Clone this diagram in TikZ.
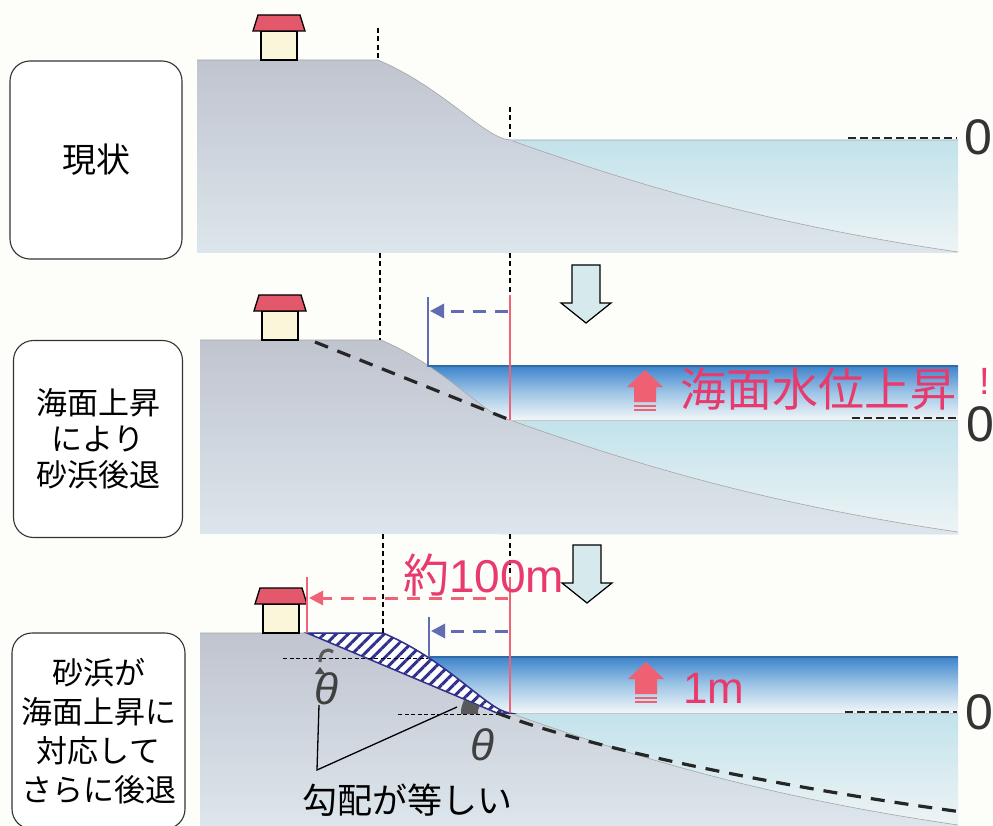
\documentclass[tikz,border=0pt]{standalone}
\usepackage{fontspec}
\setmainfont{Noto Sans CJK JP}
\newfontfamily\latinfont{Liberation Sans}
\usetikzlibrary{arrows.meta,patterns.meta}

\definecolor{paper}{RGB}{253,253,249}
\definecolor{landtop}{RGB}{192,196,207}
\definecolor{landbot}{RGB}{221,230,236}
\definecolor{seatop}{RGB}{194,226,235}
\definecolor{seabot}{RGB}{238,244,245}
\definecolor{raisetop}{RGB}{62,132,205}
\definecolor{raisemid}{RGB}{160,198,230}
\definecolor{raisebot}{RGB}{242,247,248}
\definecolor{roofred}{RGB}{228,88,108}
\definecolor{wallcream}{RGB}{250,246,218}
\definecolor{pinktext}{RGB}{232,58,108}
\definecolor{redline}{RGB}{240,98,118}
\definecolor{pinkarrow}{RGB}{238,96,114}
\definecolor{slateblue}{RGB}{98,108,178}
\definecolor{hatchblue}{RGB}{48,50,140}
\definecolor{arrowfill}{RGB}{214,234,238}

\tikzset{
  land/.style={top color=landtop, bottom color=landbot},
  seaold/.style={top color=seatop, bottom color=seabot},
  searaised/.style={top color=raisetop, bottom color=raisebot, middle color=raisemid},
  shore/.style={draw=black!35, line width=0.6pt},
  surface/.style={draw=black!22, line width=0.6pt},
  raisedsurface/.style={draw=raisetop!80!black, line width=1.4pt},
  guide/.style={draw=black, line width=1.3pt, dash pattern=on 5pt off 3.5pt},
  levelguide/.style={draw=black, line width=0.9pt, dash pattern=on 4pt off 2.5pt},
  profile/.style={draw=black!85, line width=3.2pt, dash pattern=on 14pt off 10pt},
  zeroline/.style={draw=black!85, line width=2.2pt, dash pattern=on 8pt off 4pt},
  shoreblue/.style={draw=slateblue, line width=2.2pt},
  shorered/.style={draw=redline, line width=2.2pt},
  retreatblue/.style={draw=slateblue, line width=3pt, dash pattern=on 13pt off 9pt,
    -{Triangle[length=14pt,width=14pt]}},
  retreatpink/.style={draw=redline, line width=3pt, dash pattern=on 13pt off 9pt,
    -{Triangle[length=14pt,width=14pt]}},
  erosion/.style={draw=hatchblue, line width=1.5pt, preaction={fill=white},
    pattern={Lines[angle=45,distance=8.5pt,line width=3pt]}, pattern color=hatchblue},
  pointer/.style={draw=black, line width=1.3pt},
  anglemark/.style={draw=black!65, line width=3.2pt},
  labelbox/.style={draw=black!80, line width=1.1pt, rounded corners=20pt, fill=white,
    align=center, inner sep=0pt},
  pinklabel/.style={text=pinktext, inner sep=0pt},
  zerolabel/.style={font=\latinfont\fontsize{50}{52}\selectfont, text=black!80, inner sep=0pt},
  thetalabel/.style={font=\latinfont\itshape\fontsize{44}{46}\selectfont, text=black!75, inner sep=0pt},
  house/.pic={
    \draw[fill=wallcream, line width=1.3pt] (-18,-29) rectangle (18,0);
    \draw[fill=roofred, line width=1.3pt] (-26,-29) -- (26,-29) -- (21,-45) -- (-21,-45) -- cycle;
  },
  sinkarrow/.pic={
    \draw[fill=arrowfill, line width=1.2pt, line join=miter]
      (-14,0) -- (14,0) -- (14,38) -- (25,38) -- (0,58) -- (-25,38) -- (-14,38) -- cycle;
  },
  risearrow/.pic={
    \fill[pinkarrow] (-18,17) -- (0,0) -- (18,17) -- (11,17) -- (11,32) -- (-11,32) -- (-11,17) -- cycle;
    \draw[pinkarrow, line width=1.8pt] (-11,36) -- (11,36) (-11,40) -- (11,40);
  }
}

\begin{document}
\begin{tikzpicture}[x=1pt,y=-1pt]
\useasboundingbox (0,0) rectangle (993,826);
\fill[paper] (0,0) rectangle (993,826);
\clip (0,0) rectangle (993,826);

% ---------- left captions ----------
\node[labelbox, minimum width=172pt, minimum height=198pt,
      font=\fontsize{34}{38}\selectfont] (box1) at (96,160) {現状};
\node[labelbox, minimum width=169pt, minimum height=197pt,
      font=\fontsize{31}{36}\selectfont] (box2) at (98,439) {海面上昇\\により\\砂浜後退};
\node[labelbox, minimum width=173pt, minimum height=196pt,
      font=\fontsize{31}{39}\selectfont] (box3) at (98.5,731) {砂浜が\\海面上昇に\\対応して\\さらに後退};

% ---------- panel 1: present state ----------
\shade[seaold] (500,140) rectangle (958,253);
\shade[land] (197,253) -- (197,60) -- (378,60)
  .. controls (444,88) and (484,138) .. (510,140)
  .. controls (650,190) and (780,226) .. (958,252) -- (958,253) -- cycle;
\draw[shore] (197,60) -- (378,60) .. controls (444,88) and (484,138) .. (510,140)
  .. controls (650,190) and (780,226) .. (958,252);
\draw[surface] (510,140) -- (958,140);
\pic at (279,60) {house};
\draw[guide] (378,28) -- (378,60);
\draw[guide] (510,107) -- (510,140);
\coordinate (z1a) at (848,138); \coordinate (z1b) at (957,138);
\draw[zeroline] (z1a) -- (z1b);
\node[zerolabel] (zero1) at (978,137) {0};

% ---------- panel 2: retreat by sea level rise ----------
\shade[seaold] (500,420) rectangle (958,534);
\shade[searaised] (415,366) rectangle (958,420);
\shade[land] (200,534) -- (200,340) -- (381,340)
  .. controls (447,368) and (487,418) .. (510,420)
  .. controls (650,470) and (780,506) .. (958,532) -- (958,534) -- cycle;
\draw[shore] (200,340) -- (381,340) .. controls (447,368) and (487,418) .. (510,420)
  .. controls (650,470) and (780,506) .. (958,532);
\draw[raisedsurface] (427,366) -- (958,366);
\draw[surface] (510,420) -- (958,420);
\pic at (280,340) {house};
\draw[profile] (315,342) -- (510,420);
\draw[guide] (380,253) -- (380,340);
\draw[guide] (510,253) -- (510,295);
\coordinate (r2top) at (510,295); \coordinate (r2bot) at (510,420);
\coordinate (b2top) at (428,297); \coordinate (b2bot) at (428,366);
\coordinate (b2from) at (508,311); \coordinate (b2to) at (430,311);
\draw[shorered] (r2top) -- (r2bot);
\draw[shoreblue] (b2top) -- (b2bot);
\draw[retreatblue] (b2from) -- (b2to);
\pic at (645,370) {risearrow};
\node[pinklabel, anchor=base west, font=\fontsize{46}{48}\selectfont] (rise2) at (680,406)
  {海面水位上昇};
\node[pinklabel, anchor=base west, font=\latinfont\fontsize{38}{40}\selectfont] (bang) at (979,394) {!};
\coordinate (z2a) at (852,418); \coordinate (z2b) at (957,418);
\draw[zeroline] (z2a) -- (z2b);
\node[zerolabel] (zero2) at (980,424) {0};

% ---------- panel 3: further retreat ----------
\shade[seaold] (500,713) rectangle (958,826);
\shade[searaised] (415,657) rectangle (958,713);
\shade[land] (200,826) -- (200,633) -- (383,633)
  .. controls (449,661) and (488,711) .. (510,713)
  .. controls (650,763) and (780,799) .. (958,825) -- (958,826) -- cycle;
\draw[shore] (200,633) -- (383,633) .. controls (449,661) and (488,711) .. (510,713)
  .. controls (650,763) and (780,799) .. (958,825);
\draw[raisedsurface] (428,657) -- (958,657);
\draw[surface] (510,713) -- (958,713);
\pic at (281,633) {house};
\draw[erosion] (307,633) -- (383,633) .. controls (449,661) and (488,711) .. (510,713)
  -- (497,713) -- cycle;
\draw[profile] (497,713) .. controls (600,752) and (800,790) .. (962,812);
\draw[guide] (383,534) -- (383,633);
\draw[guide] (510,534) -- (510,577);
\draw[levelguide] (283,658) -- (428,658);
\draw[levelguide] (398,714) -- (497,714);

\coordinate (r3top) at (510,577); \coordinate (r3bot) at (510,713);
\coordinate (r3ltop) at (307,577); \coordinate (r3lbot) at (307,633);
\coordinate (b3top) at (429,617); \coordinate (b3bot) at (429,657);
\coordinate (b3from) at (508,631); \coordinate (b3to) at (431,631);
\coordinate (p3from) at (508,598); \coordinate (p3to) at (309,598);
\draw[shorered] (r3top) -- (r3bot);
\draw[shorered] (r3ltop) -- (r3lbot);
\draw[shoreblue] (b3top) -- (b3bot);
\draw[retreatblue] (b3from) -- (b3to);
\draw[retreatpink] (p3from) -- (p3to);

% equal-slope angle marks
\fill[black!65] (478,714) -- (461,714) .. controls (461,708) .. (464,700)
  -- (480,706) .. controls (478,709) .. (478,714) -- cycle;
\draw[anglemark] (333,652) .. controls (326,647) and (320,652) .. (320,662);
\fill[black!70] (320,667) -- (315,674) -- (325,674) -- cycle;
\node[thetalabel] (theta1) at (326,689) {θ};
\node[thetalabel] (theta2) at (482,745) {θ};
\coordinate (ptr) at (317,770);
\coordinate (ptra) at (319,705);
\coordinate (ptrb) at (457,707);
\draw[pointer] (ptra) -- (ptr) -- (ptrb);
\node[anchor=base west, inner sep=0pt, font=\fontsize{35}{37}\selectfont] (samegrad) at (302,813)
  {勾配が等しい};

\pic at (646,662) {risearrow};
\node[pinklabel, anchor=base west, font=\latinfont\fontsize{44}{46}\selectfont] (rise3) at (683,703) {1m};
\coordinate (z3a) at (845,712); \coordinate (z3b) at (957,712);
\draw[zeroline] (z3a) -- (z3b);
\node[zerolabel] (zero3) at (979,712) {0};

% ---------- step arrows between panels ----------
\pic at (586,265) {sinkarrow};
\pic at (587,545) {sinkarrow};
\node[pinklabel, anchor=base west, font=\fontsize{46}{48}\selectfont] (dist) at (403,592)
  {約{\latinfont 100m}};
\end{tikzpicture}
\end{document}
